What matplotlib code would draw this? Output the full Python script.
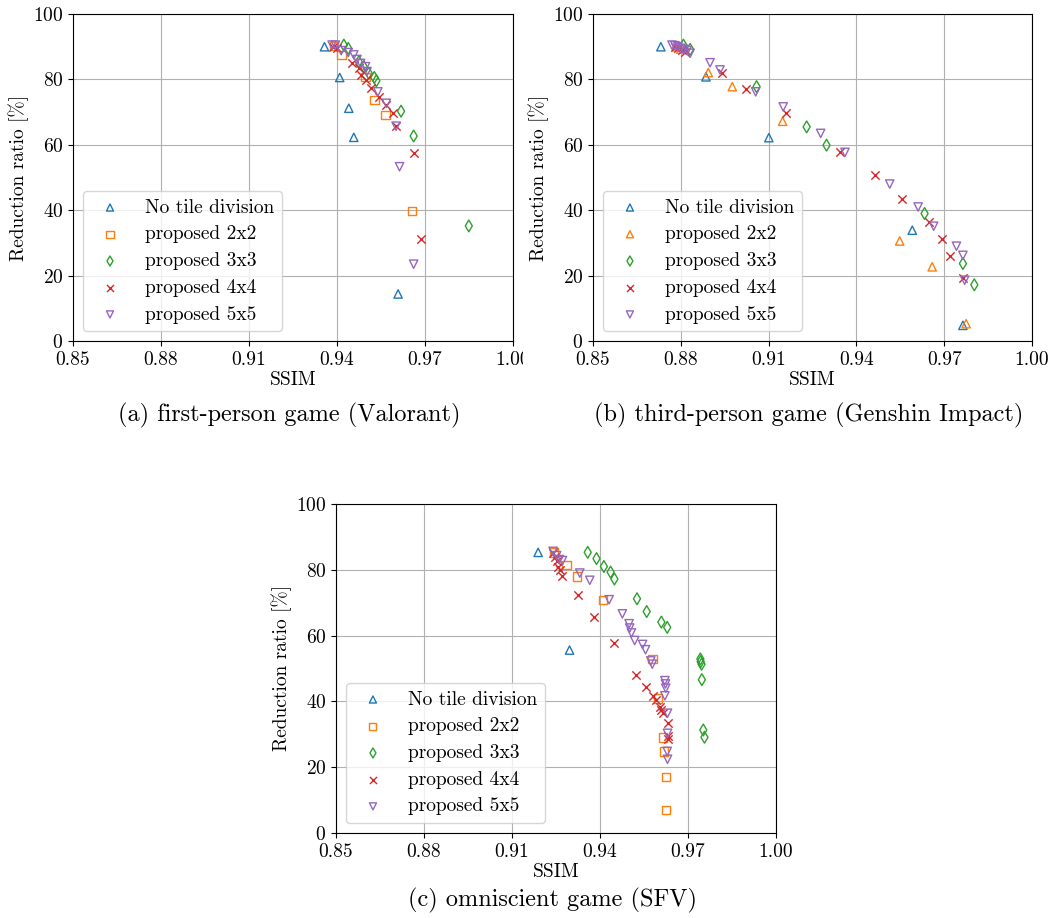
import matplotlib
matplotlib.use("Agg")
import matplotlib.pyplot as plt
from matplotlib.patches import Rectangle
from matplotlib.ticker import FormatStrFormatter

plt.rcParams["font.family"] = "serif"
plt.rcParams["font.serif"] = ["cmr10", "DejaVu Serif"]
plt.rcParams["mathtext.fontset"] = "cm"
plt.rcParams["axes.formatter.use_mathtext"] = True

LABELS = ["No tile division", "proposed 2x2", "proposed 3x3", "proposed 4x4", "proposed 5x5"]
COLORS = ["#1f77b4", "#ff7f0e", "#2ca02c", "#d62728", "#9467bd"]

# ---- (a) first-person game (Valorant) ----
a_none_x = [0.9357, 0.9409, 0.9440, 0.9457, 0.9608]
a_none_y = [90.0, 80.6, 71.2, 62.3, 14.4]
a_2x2_x = [0.9389, 0.9415, 0.9497, 0.9527, 0.9565, 0.9655]
a_2x2_y = [90.2, 87.5, 80.8, 73.7, 69.1, 39.8]
a_3x3_x = [0.9423, 0.9438, 0.9474, 0.9491, 0.9508, 0.9527, 0.9534, 0.9618, 0.9661, 0.9849]
a_3x3_y = [90.5, 89.5, 85.4, 83.9, 81.9, 80.6, 79.6, 70.3, 62.7, 35.2]
a_4x4_x = [0.9387, 0.9400, 0.9451, 0.9474, 0.9480, 0.9500, 0.9517, 0.9544, 0.9568, 0.9590,
           0.9601, 0.9661, 0.9687]
a_4x4_y = [90.0, 89.5, 85.1, 83.4, 81.3, 79.8, 77.3, 74.7, 72.2, 69.8, 65.7, 57.4, 31.2]
a_5x5_x = [0.9383, 0.9394, 0.9414, 0.9438, 0.9457, 0.9468, 0.9480, 0.9497, 0.9502, 0.9539,
           0.9568, 0.9601, 0.9613, 0.9661]
a_5x5_y = [90.5, 90.5, 88.8, 88.2, 87.5, 86.1, 84.9, 83.9, 82.4, 76.2, 72.7, 65.7, 53.3, 23.5]

# ---- (b) third-person game (Genshin Impact) ----
b_none_x = [0.8732, 0.8886, 0.9101, 0.9591, 0.9764]
b_none_y = [90.0, 80.8, 62.2, 33.9, 4.8]
b_2x2_x = [0.8785, 0.8800, 0.8894, 0.8976, 0.9148, 0.9548, 0.9659, 0.9775]
b_2x2_y = [90.0, 89.3, 82.1, 77.8, 67.2, 30.6, 22.7, 5.3]
b_3x3_x = [0.8809, 0.8832, 0.9059, 0.9230, 0.9298, 0.9633, 0.9764, 0.9803]
b_3x3_y = [90.5, 89.2, 77.8, 65.5, 59.9, 39.0, 23.7, 17.2]
b_4x4_x = [0.8780, 0.8792, 0.8803, 0.8815, 0.8940, 0.9023, 0.9161, 0.9345, 0.9465, 0.9557,
           0.9648, 0.9693, 0.9720, 0.9764]
b_4x4_y = [90.0, 89.5, 89.0, 88.3, 82.0, 77.2, 69.6, 57.7, 50.7, 43.3, 36.4, 31.3, 25.9, 19.4]
b_5x5_x = [0.8770, 0.8780, 0.8790, 0.8800, 0.8810, 0.8822, 0.8832, 0.8900, 0.8934, 0.9056,
           0.9150, 0.9278, 0.9361, 0.9514, 0.9611, 0.9664, 0.9742, 0.9764, 0.9770]
b_5x5_y = [90.5, 90.3, 90.0, 89.5, 89.2, 88.8, 88.0, 85.1, 82.9, 76.2, 71.6, 63.5, 57.7, 48.0,
           41.0, 35.1, 29.0, 26.2, 18.6]

# ---- (c) omniscient game (SFV) ----
c_none_x = [0.9189, 0.9296]
c_none_y = [85.3, 55.6]
c_2x2_x = [0.9244, 0.9286, 0.9321, 0.9411, 0.9579, 0.9597, 0.9615, 0.9617, 0.9625, 0.9625]
c_2x2_y = [85.3, 81.4, 78.0, 70.9, 52.8, 40.9, 29.0, 24.8, 17.1, 7.0]
c_3x3_x = [0.9358, 0.9388, 0.9413, 0.9436, 0.9449, 0.9526, 0.9559, 0.9609, 0.9629, 0.9742,
           0.9743, 0.9746, 0.9747, 0.9752, 0.9756]
c_3x3_y = [85.3, 83.4, 81.0, 79.3, 77.2, 71.2, 67.3, 64.1, 62.5, 52.9, 52.1, 51.3, 46.6, 31.3, 29.1]
c_4x4_x = [0.9240, 0.9246, 0.9252, 0.9257, 0.9263, 0.9271, 0.9325, 0.9380, 0.9447, 0.9522,
           0.9558, 0.9581, 0.9590, 0.9604, 0.9609, 0.9615, 0.9630, 0.9630, 0.9632]
c_4x4_y = [85.1, 83.9, 82.6, 80.8, 79.8, 78.2, 72.2, 65.5, 57.7, 48.0, 44.3, 41.5, 40.5, 38.4,
           37.4, 36.4, 33.4, 29.5, 28.5]
c_5x5_x = [0.9240, 0.9252, 0.9261, 0.9272, 0.9331, 0.9365, 0.9431, 0.9476, 0.9499, 0.9501,
           0.9507, 0.9518, 0.9545, 0.9555, 0.9573, 0.9578, 0.9621, 0.9623, 0.9624, 0.9621,
           0.9630, 0.9630, 0.9629, 0.9630]
c_5x5_y = [85.6, 84.3, 83.1, 82.8, 79.0, 76.8, 70.9, 66.6, 63.6, 62.3, 60.8, 58.5, 57.3, 55.7,
           52.3, 51.3, 46.3, 45.3, 44.0, 41.7, 36.4, 30.3, 24.8, 22.4]

XTICKS = [0.85, 0.88, 0.91, 0.94, 0.97, 1.00]
YTICKS = [0, 20, 40, 60, 80, 100]
FS = 14


def panel(ax, series, markers):
    for (xs, ys), label, color, mk in zip(series, LABELS, COLORS, markers):
        if mk == "x":
            ax.scatter(xs, ys, marker=mk, s=36, color=color, linewidths=1.0,
                       label=label, zorder=3)
        else:
            ax.scatter(xs, ys, marker=mk, s=36, facecolors="none", edgecolors=color,
                       linewidths=1.0, label=label, zorder=3)
    ax.set_xlim(0.85, 1.00)
    ax.set_ylim(0, 100)
    ax.set_xticks(XTICKS)
    ax.set_yticks(YTICKS)
    ax.xaxis.set_major_formatter(FormatStrFormatter("%.2f"))
    ax.tick_params(labelsize=FS)
    ax.grid(True, color="#b0b0b0", lw=0.8)
    ax.set_axisbelow(True)
    ax.set_xlabel("SSIM", fontsize=FS, labelpad=2)
    ax.set_ylabel("Reduction ratio [%]", fontsize=FS, labelpad=3)
    ax.legend(loc="lower left", fontsize=FS, labelspacing=0.45, markerscale=0.85)


fig = plt.figure(figsize=(10.51, 9.18), dpi=100)
ax_a = fig.add_axes([0.0695, 0.6285, 0.4187, 0.3562])
ax_b = fig.add_axes([0.5642, 0.6285, 0.4177, 0.3562])
ax_c = fig.add_axes([0.3197, 0.0926, 0.4187, 0.3584])

panel(ax_a, [(a_none_x, a_none_y), (a_2x2_x, a_2x2_y), (a_3x3_x, a_3x3_y),
             (a_4x4_x, a_4x4_y), (a_5x5_x, a_5x5_y)], ["^", "s", "d", "x", "v"])
panel(ax_b, [(b_none_x, b_none_y), (b_2x2_x, b_2x2_y), (b_3x3_x, b_3x3_y),
             (b_4x4_x, b_4x4_y), (b_5x5_x, b_5x5_y)], ["^", "^", "d", "x", "v"])
panel(ax_c, [(c_none_x, c_none_y), (c_2x2_x, c_2x2_y), (c_3x3_x, c_3x3_y),
             (c_4x4_x, c_4x4_y), (c_5x5_x, c_5x5_y)], ["^", "s", "d", "x", "v"])

# panel (a) image was cropped at its right edge, cutting its last tick label
fig.patches.append(Rectangle((523 / 1051, 1 - 378 / 918), 9 / 1051, 34 / 918,
                             transform=fig.transFigure, facecolor="white",
                             edgecolor="none", zorder=10))

fig.text(0.275, 1 - 415 / 918, "(a) first-person game (Valorant)", ha="center", va="center",
         fontsize=17.5)
fig.text(0.769, 1 - 415 / 918, "(b) third-person game (Genshin Impact)", ha="center",
         va="center", fontsize=17.5)
fig.text(0.526, 1 - 900 / 918, "(c) omniscient game (SFV)", ha="center", va="center",
         fontsize=17.5)

fig.savefig("out.png", dpi=100)
